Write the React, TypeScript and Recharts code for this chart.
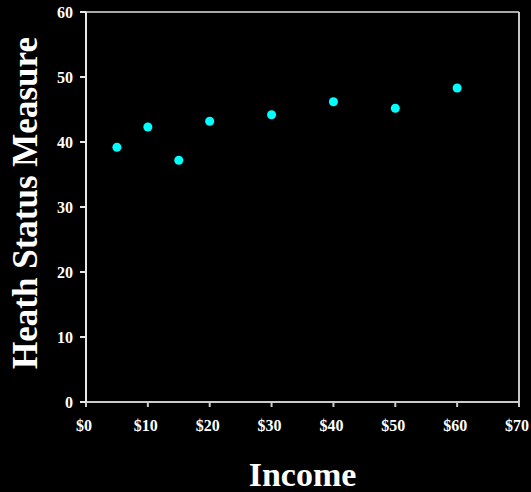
import React from 'react';
import { ScatterChart, Scatter, XAxis, YAxis, ZAxis, ReferenceLine } from 'recharts';

// income in $ thousands vs health status score
const incomes = [5, 10, 15, 20, 30, 40, 50, 60];
const healthScores = [39.2, 42.3, 37.2, 43.2, 44.2, 46.2, 45.2, 48.3];
const xTicks = [0, 10, 20, 30, 40, 50, 60, 70];
const yTicks = [0, 10, 20, 30, 40, 50, 60];

const data = incomes.map((income, i) => ({ income, score: healthScores[i] }));

const font = '"Liberation Serif", "Times New Roman", serif';
const tickStyle = { fill: '#ffffff', fontSize: 16, fontWeight: 'bold', fontFamily: font };

const YTitle = () => (
  <text
    x={25}
    y={203}
    transform="rotate(-90 25 203)"
    textAnchor="middle"
    dominantBaseline="central"
    fill="#ffffff"
    fontSize={35}
    fontWeight="bold"
    fontFamily={font}
  >
    Heath Status Measure
  </text>
);

export default function App() {
  return (
    <div style={{ position: 'fixed', left: 0, top: 0, width: 531, height: 492, background: '#000' }}>
      <ScatterChart width={531} height={492} margin={{ top: 12, right: 12, left: 0, bottom: 0 }}>
        <XAxis
          type="number"
          dataKey="income"
          domain={[0, 70]}
          ticks={xTicks}
          interval={0}
          tickFormatter={(v: number) => `$${v}`}
          height={90}
          tickSize={5}
          tickMargin={13}
          tick={{ ...tickStyle, dx: -2 }}
          stroke="#cccccc"
          strokeWidth={2}
          label={{
            value: 'Income',
            position: 'insideBottom',
            offset: 6,
            fill: '#ffffff',
            fontSize: 34,
            fontWeight: 'bold',
            fontFamily: font,
          }}
        />
        <YAxis
          type="number"
          dataKey="score"
          domain={[0, 60]}
          ticks={yTicks}
          interval={0}
          width={86}
          tickSize={6}
          tickMargin={7}
          tick={tickStyle}
          stroke="#e8e8e8"
          strokeWidth={2}
          label={<YTitle />}
        />
        <ZAxis range={[85, 85]} />
        <ReferenceLine y={60} stroke="#a8a8a8" strokeWidth={2} />
        <ReferenceLine x={70} stroke="#c8c8c8" strokeWidth={2} />
        <Scatter data={data} fill="#00ffff" isAnimationActive={false} shape="circle" />
      </ScatterChart>
    </div>
  );
}
